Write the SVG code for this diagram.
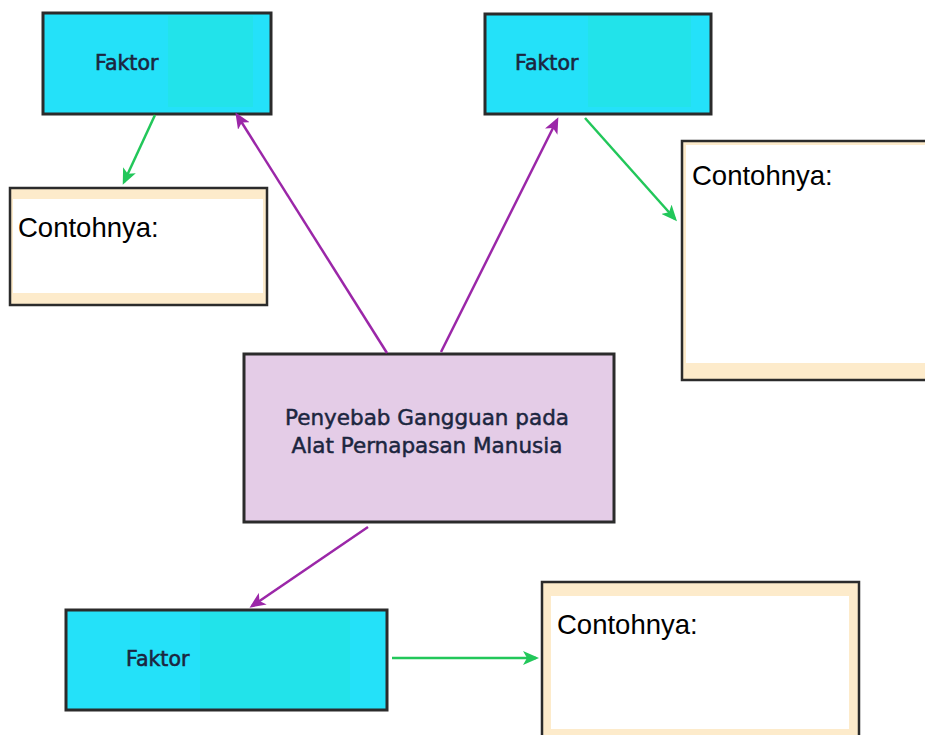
<svg xmlns="http://www.w3.org/2000/svg" width="925" height="735" viewBox="0 0 925 735">
<defs>
<style>
.faktor{fill:#24E1F9;stroke:#2b2b2b;stroke-width:3}
.inner{fill:#22E3EA}
.ftxt{font-family:"DejaVu Sans","Liberation Sans",sans-serif;font-size:20.5px;fill:#1c2640;stroke:#1c2640;stroke-width:0.6}
.cbox{fill:#FDEBCB;stroke:#2b2b2b;stroke-width:2.5}
.cin{fill:#ffffff}
.ctxt{font-family:"Liberation Sans",Arial,sans-serif;font-size:27.5px;fill:#000}
.center{fill:#E4CCE7;stroke:#2b2b2b;stroke-width:3}
.mtxt{font-family:"DejaVu Sans","Liberation Sans",sans-serif;font-size:21.5px;fill:#1c2640;stroke:#1c2640;stroke-width:0.5;text-anchor:middle}
.pl{stroke:#9B27A8;stroke-width:2.5;fill:none}
.gl{stroke:#22C75A;stroke-width:2.5;fill:none}
</style>
<marker id="ap" viewBox="0 0 16 14" refX="13" refY="7" markerWidth="16" markerHeight="14" markerUnits="userSpaceOnUse" orient="auto">
<path d="M0,0 L16,7 L0,14 L4,7 z" fill="#9B27A8"/>
</marker>
<marker id="ag" viewBox="0 0 16 14" refX="13" refY="7" markerWidth="16" markerHeight="14" markerUnits="userSpaceOnUse" orient="auto">
<path d="M0,0 L16,7 L0,14 L4,7 z" fill="#22C75A"/>
</marker>
</defs>
<rect width="925" height="735" fill="#ffffff"/>

<g id="faktor1">
<rect class="faktor" x="43" y="13" width="228" height="101"/>
<rect class="inner" x="168" y="16" width="85" height="91"/>
<text class="ftxt" x="95" y="70">Faktor</text>
</g>

<g id="faktor2">
<rect class="faktor" x="485" y="14" width="226" height="100"/>
<rect class="inner" x="588" y="16" width="103" height="91"/>
<text class="ftxt" x="515" y="70">Faktor</text>
</g>

<g id="faktor3">
<rect class="faktor" x="66" y="610" width="321" height="100"/>
<rect class="inner" x="200" y="612" width="150" height="96"/>
<text class="ftxt" x="126" y="666">Faktor</text>
</g>

<g id="contoh1">
<rect class="cbox" x="10" y="188" width="257" height="117"/>
<rect class="cin" x="13" y="199" width="250" height="94"/>
<text class="ctxt" x="18" y="237">Contohnya:</text>
</g>

<g id="contoh2">
<rect class="cbox" x="682" y="141" width="260" height="239"/>
<rect class="cin" x="686" y="145" width="245" height="218"/>
<text class="ctxt" x="692" y="185">Contohnya:</text>
</g>

<g id="contoh3">
<rect class="cbox" x="542" y="582" width="317" height="170"/>
<rect class="cin" x="551" y="596" width="298" height="133"/>
<text class="ctxt" x="557" y="634">Contohnya:</text>
</g>

<g id="center">
<rect class="center" x="244" y="354" width="370" height="168"/>
<text class="mtxt" x="427" y="425">Penyebab Gangguan pada</text>
<text class="mtxt" x="427" y="453">Alat Pernapasan Manusia</text>
</g>

<g id="connectors">
<line class="pl" x1="387" y1="353" x2="237" y2="115" marker-end="url(#ap)"/>
<line class="pl" x1="441" y1="352" x2="557" y2="120" marker-end="url(#ap)"/>
<line class="pl" x1="368" y1="527" x2="252" y2="606" marker-end="url(#ap)"/>
<line class="gl" x1="155" y1="115" x2="124" y2="182" marker-end="url(#ag)"/>
<line class="gl" x1="585" y1="118" x2="675" y2="219" marker-end="url(#ag)"/>
<line class="gl" x1="392" y1="658" x2="536" y2="658" marker-end="url(#ag)"/>
</g>
</svg>
